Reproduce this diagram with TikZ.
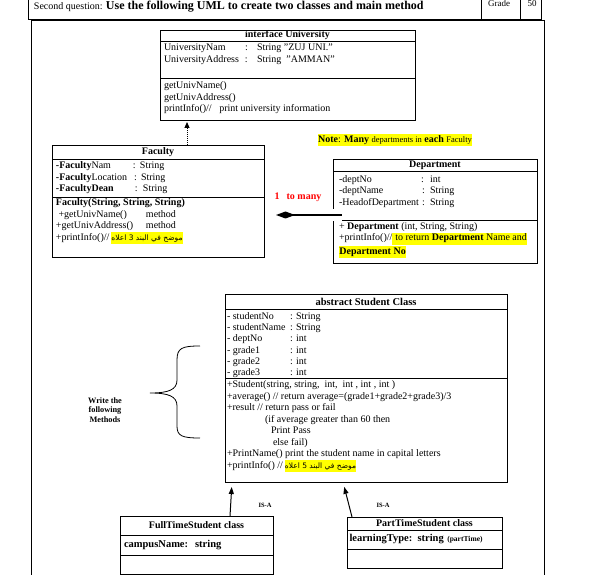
\documentclass[tikz,border=0pt]{standalone}
\usepackage{fontspec}
\setmainfont{Liberation Serif}
\newfontfamily\arabicfont[Script=Arabic]{DejaVu Sans}
\TeXXeTstate=1
\usetikzlibrary{arrows.meta, positioning}
\definecolor{hilite}{HTML}{FFFF00}
\definecolor{manyred}{HTML}{FF0000}
\newcommand{\umlcell}[4][10pt]{\parbox[t][#3][t]{#2}{\rule{0pt}{#1}#4}}
\newcommand{\hl}[1]{{\setlength{\fboxsep}{0.4pt}\colorbox{hilite}{\strut#1}}}
\newcommand{\arnote}[1]{{\arabicfont\fontsize{7.5}{9}\selectfont\beginR #1\endR}}

\begin{document}
\begin{tikzpicture}[x=1pt, y=-1pt, line width=0.8pt,
    cls/.style={draw, inner xsep=4pt, inner ysep=0pt, outer sep=0pt, anchor=north west,
                font=\fontsize{10}{11.4}\selectfont},
    ttl/.style={draw, inner sep=0pt, outer sep=0pt, anchor=north west,
                font=\bfseries\fontsize{10}{12}\selectfont},
    lbl/.style={inner sep=0pt, outer sep=0pt},
    real/.style={-{Triangle[length=6pt,width=5pt]}, densely dotted, line width=1pt, shorten >=2pt},
    isa/.style={-{Triangle[length=7pt,width=5pt]}, line width=1pt, shorten >=5pt},
    agg/.style={{Diamond[length=19pt,width=7pt]}-, line width=2pt,
                preaction={draw=white, line width=12pt}}
  ]
  \useasboundingbox (0,0) rectangle (595,575);

  % page frame and header row
  \draw (28,-5) rectangle (541,19);
  \draw (481,-5) -- (481,19) (520,-5) -- (520,19);
  \draw (31,20) -- (544,20) (31,20) -- (31,580) (544,20) -- (544,580);
  \node[lbl, anchor=base west] (hdr) at (34,10)
    {{\fontsize{10}{11}\selectfont Second question: }{\bfseries\fontsize{12}{14}\selectfont Use the following UML to create two classes and main method}};
  \node[lbl, anchor=base, font=\fontsize{9}{11}\selectfont] (grade) at (499,7) {Grade};
  \node[lbl, anchor=base, font=\fontsize{9}{11}\selectfont] (mark) at (532,7) {50};

  % interface University
  \node[ttl, minimum width=255pt, minimum height=11pt] (uniT) at (160,30) {interface University};
  \node[cls, below=0pt of uniT] (uniA) {\umlcell{247pt}{37pt}{%
      \makebox[81pt][l]{UniversityNam}\makebox[12pt][l]{:}String "ZUJ UNI."\\
      \makebox[81pt][l]{UniversityAddress}\makebox[12pt][l]{:}String\ \ "AMMAN"}};
  \node[cls, below=0pt of uniA] (uniM) {\umlcell[11pt]{247pt}{42pt}{%
      getUnivName()\\getUnivAddress()\\printInfo()//\ \ \ print university information}};

  % Faculty
  \node[ttl, minimum width=212pt, minimum height=14pt] (facT) at (52,145) {Faculty};
  \node[cls, below=0pt of facT] (facA) {\umlcell{204pt}{38pt}{%
      \makebox[77pt][l]{\textbf{-Faculty}Nam}\makebox[7pt][l]{:}String\\
      \makebox[78pt][l]{\textbf{-Faculty}Location}\makebox[7pt][l]{:}String\\
      \makebox[79pt][l]{\textbf{-FacultyDean}}\makebox[8pt][l]{:}String}};
  \node[cls, below=0pt of facA, font=\fontsize{10}{11.6}\selectfont] (facM) {\umlcell[8.5pt]{204pt}{60pt}{%
      \textbf{Faculty(String, String, String)}\\
      \makebox[90pt][l]{\ +getUnivName()}method\\
      \makebox[90pt][l]{+getUnivAddress()}method\\
      +printInfo()//\,\hl{\arnote{موضح في البند 3 اعلاه}}}};

  % Department
  \node[ttl, minimum width=204pt, minimum height=12pt] (deptT) at (333,159) {Department};
  \node[cls, below=0pt of deptT, inner xsep=6pt] (deptA) {\umlcell[11.5pt]{192pt}{49pt}{%
      \makebox[82pt][l]{-deptNo}\makebox[9pt][l]{:}int\\
      \makebox[83pt][l]{-deptName}\makebox[8pt][l]{:}String\\
      \makebox[83pt][l]{-HeadofDepartment}\makebox[8pt][l]{:}String}};
  \node[cls, below=0pt of deptA, inner xsep=6pt] (deptM) {\umlcell[9.5pt]{192pt}{43pt}{%
      + \textbf{Department} (int, String, String)\\
      +printInfo()//\hl{ to return \textbf{Department} Name and}\\
      \hl{\textbf{Department No}}}};

  \node[lbl, font=\fontsize{10}{12}\selectfont] (note) at (395,140)
    {\hl{\textbf{Note}: \textbf{Many} {\fontsize{8.5}{10}\selectfont departments in} \textbf{each} {\fontsize{8.5}{10}\selectfont Faculty}}};
  \node[lbl, font=\bfseries\fontsize{10}{12}\selectfont, text=manyred] (many) at (298,197) {1\hspace{7pt}to many};

  % abstract Student
  \node[ttl, minimum width=282pt, minimum height=15pt, font=\bfseries\fontsize{10.5}{12}\selectfont] (stuT) at (225,294) {abstract Student Class};
  \node[cls, below=0pt of stuT, inner xsep=2pt] (stuA) {\umlcell{278pt}{69pt}{%
      \makebox[63pt][l]{- studentNo}: String\\
      \makebox[63pt][l]{- studentName}: String\\
      \makebox[63pt][l]{- deptNo}: int\\
      \makebox[63pt][l]{- grade1}: int\\
      \makebox[63pt][l]{- grade2}: int\\
      \makebox[63pt][l]{- grade3}: int}};
  \node[cls, below=0pt of stuA, inner xsep=2pt, font=\fontsize{10}{11.5}\selectfont] (stuM) {\umlcell[9.5pt]{278pt}{104pt}{%
      +Student(string, string,\ \ int,\ \ int , int , int )\\
      +average() // return average=(grade1+grade2+grade3)/3\\
      +result // return pass or fail\\
      \hspace*{38pt}(if average greater than 60 then\\
      \hspace*{44pt}Print Pass\\
      \hspace*{46pt}else fail)\\
      +PrintName() print the student name in capital letters\\
      +printInfo() //\,\hl{\arnote{موضح في البند 5 اعلاه}}}};

  % brace and its note
  \draw (200,346) .. controls (182,346) and (177,348) .. (177,360) -- (177,380)
        .. controls (177,390) and (168,393) .. (150,393)
        .. controls (168,393) and (177,396) .. (177,406) -- (177,426)
        .. controls (177,436) and (182,438) .. (200,438);
  \node[lbl, align=center, font=\bfseries\fontsize{8.3}{9.8}\selectfont] (wrt) at (105,410) {Write the\\following\\Methods};

  % sub classes
  \node[ttl, minimum width=153pt, minimum height=19pt] (fullT) at (120,516) {FullTimeStudent class};
  \node[cls, below=0pt of fullT, text width=145pt, minimum height=20pt, align=left,
        font=\bfseries\fontsize{10.5}{12}\selectfont] (fullA) {campusName:\ \ string};
  \node[cls, below=0pt of fullA, minimum width=153pt, minimum height=19pt] (fullM) {};

  \node[ttl, minimum width=155pt, minimum height=13pt] (partT) at (347,517) {PartTimeStudent class};
  \node[cls, below=0pt of partT, text width=150pt, minimum height=19pt, align=left, inner xsep=2.5pt,
        font=\bfseries\fontsize{10.5}{12}\selectfont] (partA) {learningType: string {\fontsize{7.5}{9}\selectfont (partTime)}};
  \node[cls, below=0pt of partA, minimum width=155pt, minimum height=19pt] (partM) {};

  \node[lbl, font=\bfseries\fontsize{6.5}{8}\selectfont] (isa1) at (265,505) {IS-A};
  \node[lbl, font=\bfseries\fontsize{6.5}{8}\selectfont] (isa2) at (383,505) {IS-A};

  % connectors
  \draw[real] ([xshift=135pt]facT.north west) -- ([xshift=135pt]facT.north west |- uniM.south);
  \coordinate (aggTip) at ([xshift=12pt, yshift=-18pt]facM.north east);
  \draw[agg] (aggTip) -- ([xshift=9pt, yshift=5pt]deptA.south west);
  \draw[isa] ([xshift=110pt]fullT.north west) -- ([xshift=7pt]stuM.south west);
  \draw[isa] ([xshift=5pt]partT.north west) -- ([xshift=118pt]stuM.south west);
\end{tikzpicture}
\end{document}
